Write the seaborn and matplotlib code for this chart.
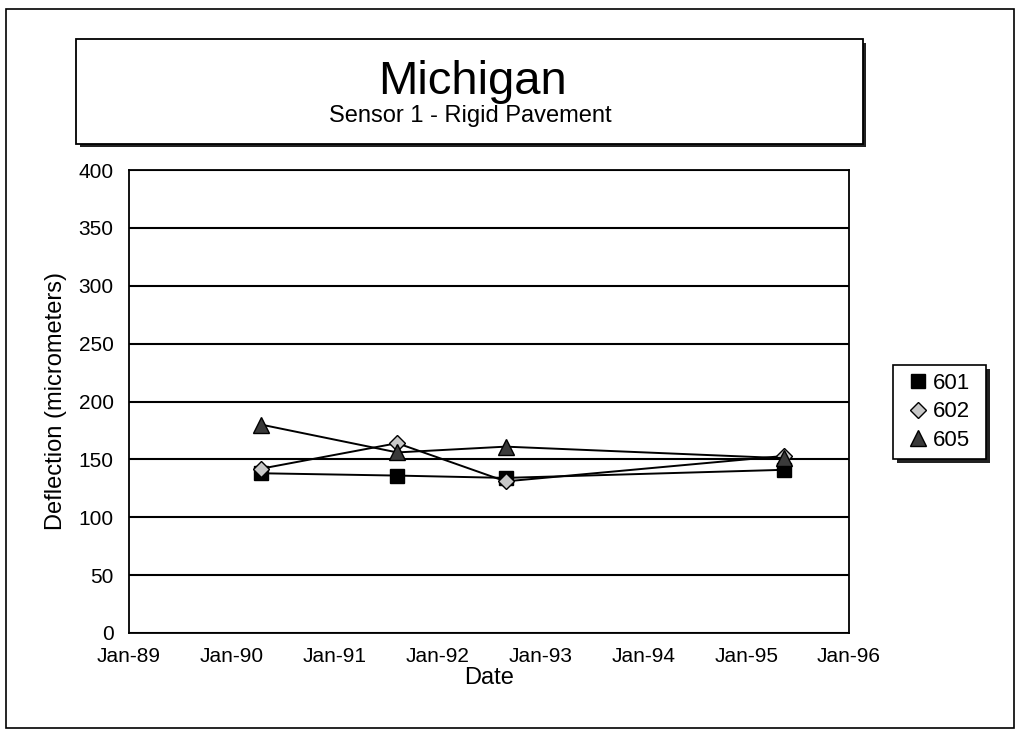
import pandas as pd
import numpy as np
import matplotlib
matplotlib.use("Agg")
import matplotlib.pyplot as plt
import matplotlib.dates as mdates
from matplotlib.patches import Rectangle
from matplotlib.lines import Line2D
import seaborn as sns

# Survey dates and deflections
dates = ["1990-04-16", "1991-08-11", "1992-08-30", "1995-05-17"]
sensor_601 = [138, 136, 134, 141]
sensor_602 = [142, 164, 131, 153]
sensor_605 = [180, 156, 161, 151]
y_ticks = [0, 50, 100, 150, 200, 250, 300, 350, 400]
tick_years = list(range(1989, 1997))

sns.set_style("white")
plt.rcParams["font.family"] = ["Liberation Sans", "DejaVu Sans"]
plt.rcParams.update({"text.color": "black", "axes.labelcolor": "black",
                     "xtick.color": "black", "ytick.color": "black"})

W, H = 1023, 733


def px_rect(x0, y0, x1, y1):
    """pixel box (top-left origin) -> figure fraction rect"""
    return (x0 / W, 1 - y1 / H, (x1 - x0) / W, (y1 - y0) / H)


df = pd.DataFrame({
    "date": pd.to_datetime(dates * 3),
    "deflection": sensor_601 + sensor_602 + sensor_605,
    "sensor": ["601"] * 4 + ["602"] * 4 + ["605"] * 4,
})

styles = {
    "601": dict(marker="s", markerfacecolor="black", markersize=10.5),
    "602": dict(marker="D", markerfacecolor="#c8c8c8", markersize=8.5),
    "605": dict(marker="^", markerfacecolor="#3a3a3a", markersize=11.5),
}

fig = plt.figure(figsize=(W / 100, H / 100), dpi=100)

# outer frame
ox, oy, ow, oh = px_rect(6, 9, 1014, 728)
fig.patches.append(Rectangle((ox, oy), ow, oh, transform=fig.transFigure,
                             fill=False, edgecolor="black", lw=1.2))

# title box with shadow
sx, sy, sw, sh = px_rect(80, 43, 866, 147)
fig.patches.append(Rectangle((sx, sy), sw, sh, transform=fig.transFigure,
                             facecolor="#222222", edgecolor="none"))
tx, ty, tw, th = px_rect(76, 39, 863, 144)
fig.patches.append(Rectangle((tx, ty), tw, th, transform=fig.transFigure,
                             facecolor="white", edgecolor="black", lw=1.3))
fig.text(472 / W, 1 - 82 / H, "Michigan", ha="center", va="center", fontsize=34)
fig.text(470 / W, 1 - 116 / H, "Sensor 1 - Rigid Pavement", ha="center", va="center", fontsize=17)

ax = fig.add_axes(px_rect(129, 170, 849, 633))

for name, grp in df.groupby("sensor"):
    sns.lineplot(data=grp, x="date", y="deflection", ax=ax, color="black", lw=1.4,
                 markeredgecolor="black", markeredgewidth=1.0, **styles[name])

ax.set_ylim(0, 400)
ax.set_yticks(y_ticks)
ax.yaxis.grid(True, color="black", lw=1.5)
ax.xaxis.grid(False)
ax.set_xlim(pd.Timestamp("1989-01-01"), pd.Timestamp("1996-01-01"))
ax.set_xticks([pd.Timestamp(f"{y}-01-01") for y in tick_years])
ax.xaxis.set_major_formatter(mdates.DateFormatter("%b-%y"))
ax.tick_params(axis="x", direction="in", length=9, width=1.2, labelsize=15, pad=10)
ax.tick_params(axis="y", length=0, labelsize=15, pad=11)
for s in ax.spines.values():
    s.set_color("black")
    s.set_linewidth(1.3)
ax.set_xlabel("Date", fontsize=17, labelpad=1)
ax.set_ylabel("Deflection (micrometers)", fontsize=17, labelpad=8)
ax.set_axisbelow(True)

# legend with shadow
lx, ly, lw_, lh = px_rect(897, 369, 990, 463)
fig.patches.append(Rectangle((lx, ly), lw_, lh, transform=fig.transFigure,
                             facecolor="#222222", edgecolor="none"))
bx, by, bw, bh = px_rect(893, 365, 986, 459)
fig.patches.append(Rectangle((bx, by), bw, bh, transform=fig.transFigure,
                             facecolor="white", edgecolor="black", lw=1.2))
handles = [Line2D([], [], linestyle="none", markeredgecolor="black", markeredgewidth=1.0,
                  **styles[k]) for k in ["601", "602", "605"]]
fig.legend(handles, ["601", "602", "605"], loc="center", bbox_to_anchor=(bx + bw / 2, by + bh / 2),
           frameon=False, fontsize=16, handlelength=0.8, handletextpad=0.3, labelspacing=0.35)

fig.savefig("out.png", dpi=100)
